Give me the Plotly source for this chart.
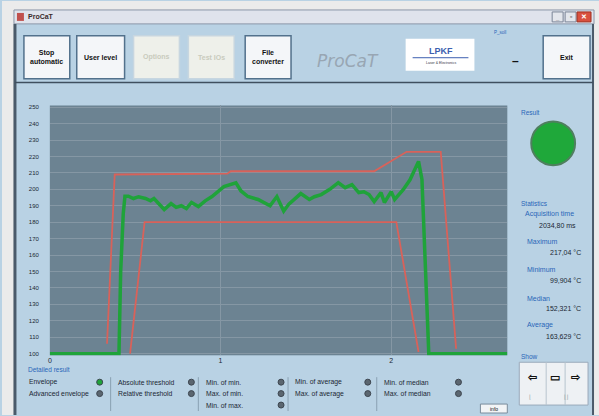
import plotly.graph_objects as go

# ProCaT temperature curve with envelope
time_s = [0, 0.405, 0.415, 0.43, 0.44, 0.46, 0.49, 0.52, 0.56, 0.59, 0.61, 0.64, 0.67, 0.71, 0.74,
          0.77, 0.80, 0.83, 0.87, 0.91, 0.95, 1.02, 1.09, 1.12, 1.16, 1.22, 1.29, 1.33, 1.37, 1.40,
          1.43, 1.47, 1.52, 1.55, 1.59, 1.64, 1.69, 1.73, 1.77, 1.81, 1.84, 1.87, 1.90, 1.94, 1.96,
          2.00, 2.02, 2.07, 2.11, 2.16, 2.18, 2.22, 2.68]
temp_c = [100, 100, 150, 185, 195.8, 195.8, 194.4, 195.5, 194.4, 193, 194.4, 191, 187.7, 191.3, 189,
          190, 188.3, 192, 189.5, 193, 195.6, 201.6, 204, 199, 195.6, 193.8, 190, 195.6, 186.7, 191,
          193.8, 197.4, 193.8, 195.5, 196.8, 200, 204, 201, 202.8, 198, 198.5, 196.8, 192.5, 198, 192,
          198.6, 193.8, 199.8, 205.8, 217, 206, 100, 100]

upper_x = [0.335, 0.38, 1.04, 1.06, 1.90, 2.09, 2.29, 2.38]
upper_y = [106, 209, 209.5, 211, 211, 222.8, 222.8, 103]
lower_x = [0.47, 0.555, 2.03, 2.16]
lower_y = [100, 180, 180, 101]

y_ticks = list(range(100, 251, 10))
x_ticks = [0, 1, 2]

stats = [("Acquisition time", "2034,80 ms"), ("Maximum", "217,04 °C"), ("Minimum", "99,904 °C"),
         ("Median", "152,321 °C"), ("Average", "163,629 °C")]
stat_rows = [(214, 226), (242, 253), (270, 281), (299, 309), (326, 337)]
buttons = [("Stop<br>automatic", 22, 68, True), ("User level", 75, 123, True), ("Options", 132, 178, False),
           ("Test IOs", 187, 233, False), ("File<br>converter", 244, 290, True), ("Exit", 543, 590, True)]
detail_cols = [
    (25, 98, ["Envelope", "Advanced envelope"], ["#1fa33a", "#5b6670"]),
    (114, 190, ["Absolute threshold", "Relative threshold"], ["#5b6670"] * 2),
    (203, 280, ["Min. of min.", "Max. of min.", "Min. of max."], ["#5b6670"] * 3),
    (292, 367, ["Min. of average", "Max. of average"], ["#5b6670"] * 2),
    (381, 458, ["Min. of median", "Max. of median"], ["#5b6670"] * 2),
]

W, H = 599, 416
FONT = "Liberation Sans"


def X(p):
    return p / W


def Y(p):
    return 1 - p / H


fig = go.Figure()
fig.add_trace(go.Scatter(x=upper_x, y=upper_y, mode="lines", line=dict(color="#d8625a", width=1.8)))
fig.add_trace(go.Scatter(x=lower_x, y=lower_y, mode="lines", line=dict(color="#d8625a", width=1.8)))
fig.add_trace(go.Scatter(x=time_s, y=temp_c, mode="lines", line=dict(color="#1fa33a", width=3.5)))

shapes = []
annotations = []


def rect(x0, y0, x1, y1, fill, line="rgba(0,0,0,0)", lw=1):
    shapes.append(dict(type="rect", xref="paper", yref="paper", x0=X(x0), x1=X(x1), y0=Y(y1), y1=Y(y0),
                       fillcolor=fill, line=dict(color=line, width=lw), layer="below"))


def hline(x0, x1, y, color, lw=1):
    shapes.append(dict(type="line", xref="paper", yref="paper", x0=X(x0), x1=X(x1), y0=Y(y), y1=Y(y),
                       line=dict(color=color, width=lw)))


def vline(x, y0, y1, color, lw=1):
    shapes.append(dict(type="line", xref="paper", yref="paper", x0=X(x), x1=X(x), y0=Y(y0), y1=Y(y1),
                       line=dict(color=color, width=lw)))


def text(x, y, s, size=6.5, color="#1b2733", anchor="left", bold=False, italic=False, family=FONT):
    if bold:
        s = "<b>" + s + "</b>"
    if italic:
        s = "<i>" + s + "</i>"
    annotations.append(dict(x=X(x), y=Y(y), xref="paper", yref="paper", text=s, showarrow=False,
                            xanchor=anchor, yanchor="middle", font=dict(size=size, color=color, family=family)))


def dot(x, y, r, color, edge):
    shapes.append(dict(type="circle", xref="paper", yref="paper", x0=X(x - r), x1=X(x + r),
                       y0=Y(y + r), y1=Y(y - r), fillcolor=color, line=dict(color=edge, width=1)))


# window frame and title bar
rect(0, 0, W, 9, "#ebebeb")
rect(0, 0, 12, H, "#ebebeb")
rect(594, 0, W, H, "#ebebeb")
rect(12, 9, 594, 23, "#dfe3ec", "#8b95a8")
rect(15, 12, 22, 20, "#c0504d")
text(24, 16, "ProCaT", 7, "#3a2a2a", bold=True)
rect(552, 11, 563, 21, "#e3e6ec", "#7a8496")
rect(565, 11, 576, 21, "#e3e6ec", "#7a8496")
rect(577, 11, 591, 21, "#d9503e", "#a03020")
text(584, 16, "✕", 7, "white", anchor="center", bold=True)
text(557.5, 17, "_", 6, "#333", anchor="center", bold=True)
text(570.5, 16, "▫", 7, "#333", anchor="center")
vline(13, 23, H, "#4a5a6a", 3)
vline(593, 23, H, "#4a5a6a", 2)
hline(13, 593, 82, "#3f4f5f", 1.5)

# toolbar
for label, x0, x1, enabled in buttons:
    rect(x0, 35, x1, 78, "#f4f6f9" if enabled else "#eef0ea", "#52718c" if enabled else "#c7d6e0", 1.5)
    text((x0 + x1) / 2, 56.5, label, 7, "#111" if enabled else "#c9cbbd", anchor="center", bold=True)
text(347, 60, "ProCaT", 17, "#98a6b3", anchor="center", italic=True, family="DejaVu Sans")
rect(405, 38, 474, 70, "#ffffff")
text(440, 50, "LPKF", 9, "#3d5fb0", anchor="center", bold=True)
hline(412, 468, 57, "#3d5fb0", 1)
text(440, 62, "Laser & Electronics", 3.5, "#334", anchor="center")
text(500, 32, "P_soll", 4.5, "#2a66b8", anchor="center")
text(515, 60, "–", 12, "#111", anchor="center", bold=True)

# right panel
text(519, 112, "Result", 6.5, "#2a66b8")
shapes.append(dict(type="circle", xref="paper", yref="paper", x0=X(531), x1=X(575), y0=Y(165), y1=Y(121),
                   fillcolor="#1fa83a", line=dict(color="#4f7f5f", width=2)))
text(519, 203, "Statistics", 6.5, "#2a66b8")
for i, ((name, val), (ny, vy)) in enumerate(zip(stats, stat_rows)):
    text(523 if i == 0 else 525, ny, name, 7, "#2a66b8", anchor="left")
    text(578 if i == 0 else 583, vy, val, 7, "#1b2733", anchor="right")
text(519, 357, "Show", 6.5, "#2a66b8")
rect(519, 363, 588, 406, "#eef1f4", "#9aaaba")
vline(546, 363, 406, "#b8c4ce")
vline(565, 363, 406, "#b8c4ce")
text(532, 378, "⇦", 11, "#111", anchor="center", bold=True)
text(555, 378, "▭", 11, "#111", anchor="center", bold=True)
text(576, 378, "⇨", 11, "#111", anchor="center", bold=True)
text(530, 398, "⌊", 6, "#9aa", anchor="center")
text(566, 398, "⌊⌋", 6, "#9aa", anchor="center")

# detailed result
text(24, 370, "Detailed result", 6.5, "#2a66b8")
for tx, dx, labels, colors in detail_cols:
    for j, (lab, col) in enumerate(zip(labels, colors)):
        yy = 383 + j * 11.5
        text(tx, yy, lab, 6.8, "#1b2733")
        dot(dx, yy, 3, col, "#3d4650")
for sx in [109, 197, 287, 376]:
    vline(sx, 378, 412, "#8aa0b2")
rect(480, 405, 507, 414, "#f2f4f6", "#7b8c9c")
text(493.5, 409.5, "info", 5, "#111", anchor="center")

fig.update_layout(
    width=W, height=H,
    margin=dict(l=0, r=0, t=0, b=0),
    paper_bgcolor="#b9d2e4",
    plot_bgcolor="#6c8392",
    showlegend=False,
    shapes=shapes,
    annotations=annotations,
    xaxis=dict(domain=[X(48), X(507)], range=[0, 2.68], tickvals=x_ticks, showgrid=True,
               gridcolor="#8597a4", gridwidth=1, zeroline=False, showline=False,
               tickfont=dict(size=7, color="#1b2733", family=FONT), ticks=""),
    yaxis=dict(domain=[Y(356), Y(105)], range=[99, 251], tickvals=y_ticks, showgrid=True,
               gridcolor="#8597a4", gridwidth=1, zeroline=False, showline=False, ticklabelstandoff=10,
               tickfont=dict(size=6, color="#1b2733", family=FONT), ticks=""),
)

fig.write_html("out.html", config={"displayModeBar": False},
               post_script="document.body.style.margin='0';document.body.style.overflow='hidden';")
